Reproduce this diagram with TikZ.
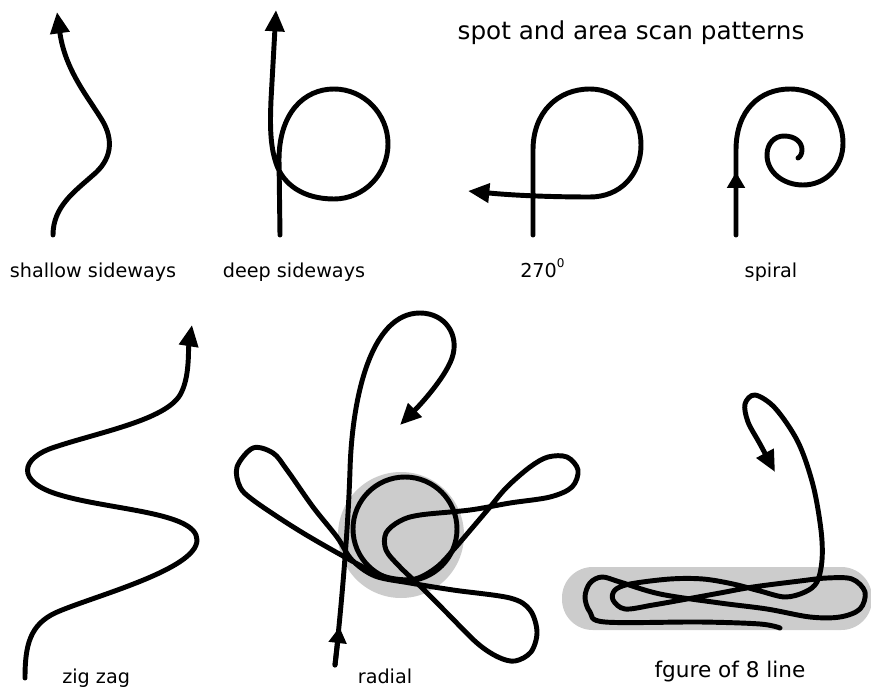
\documentclass[tikz,border=0pt]{standalone}
\usepackage{fontspec}
\setmainfont{DejaVu Sans}
\usetikzlibrary{arrows.meta}
\definecolor{scanfill}{RGB}{204,204,204}
\begin{document}
\begin{tikzpicture}[x=0.75pt,y=-0.75pt,
  curve/.style={line width=3.7pt,line cap=round,line join=round},
  endtip/.style={-{Triangle[length=16pt,width=14pt]}},
  midtip/.style={-{Triangle[length=12pt,width=13pt]}},
  lbl/.style={font=\fontsize{14.4}{17}\selectfont, anchor=base, inner sep=0pt}]
\useasboundingbox (0,0) rectangle (871,688);

% title
\node[lbl, font=\fontsize{18.5}{22}\selectfont] (title) at (631,40) {spot and area scan patterns};

% shallow sideways
\draw[curve,endtip] (53,235) .. controls (53,207) and (74,192) .. (92,176)
  .. controls (112,160) and (114,140) .. (102,120)
  .. controls (88,97) and (65,70) .. (57,12);
\node[lbl] (lshallow) at (93,277) {shallow sideways};

% deep sideways
\draw[curve,endtip] (280,235) -- (279,160)
  .. controls (279,113) and (304,89) .. (334,89)
  .. controls (364,89) and (388,114) .. (388,144)
  .. controls (388,174) and (364,199) .. (334,199)
  .. controls (304,199) and (283,185) .. (276,163)
  .. controls (270,145) and (270,125) .. (271,100) -- (276,10);
\node[lbl] (ldeep) at (294,277) {deep sideways};

% 270 degrees
\draw[curve,endtip] (533,235) -- (533,150)
  .. controls (533,112) and (558,89) .. (590,89)
  .. controls (620,89) and (641,115) .. (641,145)
  .. controls (641,175) and (620,197) .. (590,197)
  .. controls (560,197) and (520,196) .. (468,191);
\node[lbl, anchor=base west] (l270) at (520,277) {270\raisebox{0.9ex}{\fontsize{9}{10}\selectfont 0}};

% spiral
\draw[curve] (736,235) -- (736,150)
  .. controls (736,110) and (760,89) .. (790,89)
  .. controls (822,89) and (843,115) .. (843,143)
  .. controls (843,168) and (825,185) .. (803,185)
  .. controls (783,185) and (767,172) .. (767,155)
  .. controls (767,143) and (775,136) .. (784,136)
  .. controls (795,136) and (802,142) .. (802,150)
  .. controls (802,154) and (800,157) .. (798,158);
\draw[curve,midtip] (736,230) -- (736,172);
\node[lbl] (lspiral) at (771,277) {spiral};

% zig zag
\draw[curve,endtip] (25,678) .. controls (25,645) and (30,625) .. (55,613)
  .. controls (90,597) and (197,570) .. (197,540)
  .. controls (197,512) and (110,510) .. (60,495)
  .. controls (15,482) and (20,458) .. (55,447)
  .. controls (100,432) and (165,420) .. (180,395)
  .. controls (190,378) and (188,350) .. (192,325);
\node[lbl, anchor=base west] (lzig) at (62,683) {zig zag};

% radial
\fill[scanfill] (401,535) circle[radius=63];
\draw[curve] (405,529) circle[radius=52];
\draw[curve] plot[smooth cycle, tension=0.55] coordinates {
  (410,583) (453,590) (510,598) (530,610) (537,632) (531,652) (515,661)
  (498,657) (477,643) (447,613) (420,586) (400,567) (386,550) (386,533)
  (400,521) (420,515) (470,510) (510,503) (550,497) (572,487) (578,470)
  (567,457) (548,457) (530,467) (507,487) (490,507) (473,527) (455,548)
  (437,567) (415,579) (390,578) (367,569) (320,543) (287,523) (253,500)
  (240,487) (237,467) (253,448) (273,453) (287,470) (313,507) (337,537)
  (352,560) (375,576)};
\draw[curve,endtip] (335,665) .. controls (342,600) and (348,530) .. (350,470)
  .. controls (352,400) and (370,313) .. (420,313)
  .. controls (445,313) and (460,335) .. (452,358)
  .. controls (445,378) and (420,405) .. (400,425);
\draw[curve,midtip] (335,665) -- (339.5,627);
\node[lbl] (lradial) at (385,683) {radial};

% figure of 8 line
\fill[scanfill, rounded corners=23pt] (562,567) rectangle (872,630);
\draw[curve,endtip] plot[smooth, tension=0.55] coordinates {
  (780,628) (760,624) (700,622) (605,622) (590,612) (585,597) (590,583)
  (602,577) (620,582) (660,594) (720,603) (767,609) (810,617) (840,617)
  (860,609) (865,592) (852,579) (827,578) (800,581) (753,587) (720,593)
  (687,599) (653,605) (625,609) (613,600) (615,590) (630,584) (670,579)
  (703,579) (733,584) (760,591) (785,597) (805,592) (817,582) (822,560)
  (821,530) (813,485) (798,442) (775,408) (755,395) (745,404) (748,422)
  (760,444) (775,472)};
\node[lbl, font=\fontsize{16.2}{19}\selectfont] (lfig) at (730,677) {fgure of 8 line};
\end{tikzpicture}
\end{document}
